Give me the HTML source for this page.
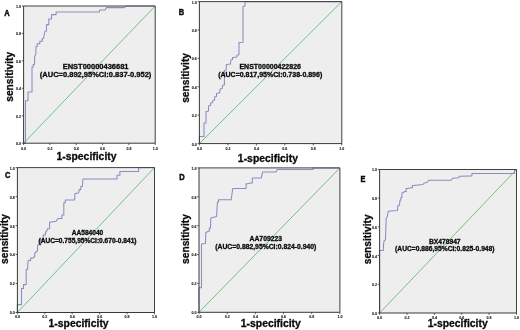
<!DOCTYPE html>
<html><head><meta charset="utf-8"><title>ROC curves</title>
<style>
html,body{margin:0;padding:0;background:#fff;}
body{width:520px;height:330px;overflow:hidden;}
svg{display:block;}

text{font-family:"Liberation Sans",sans-serif;font-weight:bold;fill:#0a0a0a;stroke:#0a0a0a;stroke-width:0.3px;}
.tk{font-size:3.6px;fill:#111;stroke:#111;stroke-width:0.08px;}
</style></head><body>
<svg width="520" height="330" viewBox="0 0 520 330">
<rect width="520" height="330" fill="#ffffff"/>

<g>
<rect x="23.6" y="6" width="131.6" height="137.2" fill="#eeeeee"/>
<line x1="23.6" y1="143.2" x2="155.2" y2="6" stroke="#72c282" stroke-width="1"/>
<polyline points="23.6,143.2 25.5,143.2 25.5,100.8 28,100.8 28,92 32,92 32,67 33.2,67.0 33.2,64.5 34.5,64.5 34.7,56 35.8,54.5 36,46.5 37.2,46.5 37.2,43.8 38.5,43.8 39.8,43.8 39.8,41.2 41.0,41.2 42.2,41.2 42.2,38.5 43.5,38.5 45,31 46.5,31.0 46.5,24.6 48.0,24.6 48.8,24.6 48.8,19.0 49.6,19.0 51.5,19.0 51.5,14.6 53.5,14.6 56.1,14.6 56.1,12.0 58.8,12.0 99.2,12 99.8,10 105,10 106.5,7.6 124,7.6 126,6 155.2,6" fill="none" stroke="#868ec2" stroke-width="1.05" stroke-linejoin="round"/>
<polyline points="23.6,6 155.2,6 155.2,143.2" fill="none" stroke="#404040" stroke-width="1"/>
<polyline points="23.6,6 23.6,143.2 155.2,143.2" fill="none" stroke="#2e2e2e" stroke-width="0.95"/>
<line x1="23.6" y1="143.2" x2="23.6" y2="145.0" stroke="#333" stroke-width="0.8"/>
<line x1="21.8" y1="143.2" x2="23.6" y2="143.2" stroke="#333" stroke-width="0.8"/>
<line x1="49.9" y1="143.2" x2="49.9" y2="145.0" stroke="#333" stroke-width="0.8"/>
<line x1="21.8" y1="115.8" x2="23.6" y2="115.8" stroke="#333" stroke-width="0.8"/>
<line x1="76.2" y1="143.2" x2="76.2" y2="145.0" stroke="#333" stroke-width="0.8"/>
<line x1="21.8" y1="88.3" x2="23.6" y2="88.3" stroke="#333" stroke-width="0.8"/>
<line x1="102.6" y1="143.2" x2="102.6" y2="145.0" stroke="#333" stroke-width="0.8"/>
<line x1="21.8" y1="60.9" x2="23.6" y2="60.9" stroke="#333" stroke-width="0.8"/>
<line x1="128.9" y1="143.2" x2="128.9" y2="145.0" stroke="#333" stroke-width="0.8"/>
<line x1="21.8" y1="33.4" x2="23.6" y2="33.4" stroke="#333" stroke-width="0.8"/>
<line x1="155.2" y1="143.2" x2="155.2" y2="145.0" stroke="#333" stroke-width="0.8"/>
<line x1="21.8" y1="6.0" x2="23.6" y2="6.0" stroke="#333" stroke-width="0.8"/>
</g>
<g>
<text class="tk" x="23.6" y="149.8" text-anchor="middle">0.0</text>
<text class="tk" x="21.0" y="145.1" text-anchor="end">0.0</text>
<text class="tk" x="49.9" y="149.8" text-anchor="middle">0.2</text>
<text class="tk" x="21.0" y="117.7" text-anchor="end">0.2</text>
<text class="tk" x="76.2" y="149.8" text-anchor="middle">0.4</text>
<text class="tk" x="21.0" y="90.2" text-anchor="end">0.4</text>
<text class="tk" x="102.6" y="149.8" text-anchor="middle">0.6</text>
<text class="tk" x="21.0" y="62.8" text-anchor="end">0.6</text>
<text class="tk" x="128.9" y="149.8" text-anchor="middle">0.8</text>
<text class="tk" x="21.0" y="35.3" text-anchor="end">0.8</text>
<text class="tk" x="155.2" y="149.8" text-anchor="middle">1.0</text>
<text class="tk" x="21.0" y="7.9" text-anchor="end">1.0</text>
<text transform="translate(4.2,15.6) scale(0.88,1)" font-size="8.5" style="stroke-width:0.45px">A</text>
<text font-size="10.2" transform="translate(13.1,76.8) rotate(-90)" text-anchor="middle">sensitivity</text>
<text font-size="10.4" x="86.5" y="160.2" text-anchor="middle">1-specificity</text>
<text font-size="7.5" x="95.6" y="68.5" text-anchor="middle">ENST00000436681</text>
<text font-size="7.5" x="95.6" y="76.7" text-anchor="middle">(AUC=0.892,95%CI:0.837-0.952)</text>
</g>
<g>
<rect x="199.4" y="1.6" width="142.4" height="142.0" fill="#eeeeee"/>
<line x1="199.4" y1="143.6" x2="341.8" y2="1.6" stroke="#72c282" stroke-width="1"/>
<polyline points="199.4,143.6 199.4,136.5 204,136.5 204,123 206,123 206,111.5 208.5,111 208.6,105.8 210.5,105.5 210.6,103 212.6,102.8 212.7,100.5 214.6,100 214.7,96.7 216.5,96.5 216.6,93.5 219.6,92.8 220.2,88.9 222.3,88.5 222.5,85.2 224.4,85 224.4,70.5 226.2,70 226.4,64.5 230.5,64 230.8,60 232.5,59.6 232.5,57.5 237,57 237,55 239,54.7 239,42.5 243,42.3 243,6.2 245,6 245,1.6 341.8,1.6" fill="none" stroke="#868ec2" stroke-width="1.05" stroke-linejoin="round"/>
<polyline points="199.4,1.6 341.8,1.6 341.8,143.6" fill="none" stroke="#404040" stroke-width="1"/>
<polyline points="199.4,1.6 199.4,143.6 341.8,143.6" fill="none" stroke="#2e2e2e" stroke-width="0.95"/>
<line x1="199.4" y1="143.6" x2="199.4" y2="145.4" stroke="#333" stroke-width="0.8"/>
<line x1="197.6" y1="143.6" x2="199.4" y2="143.6" stroke="#333" stroke-width="0.8"/>
<line x1="227.9" y1="143.6" x2="227.9" y2="145.4" stroke="#333" stroke-width="0.8"/>
<line x1="197.6" y1="115.2" x2="199.4" y2="115.2" stroke="#333" stroke-width="0.8"/>
<line x1="256.4" y1="143.6" x2="256.4" y2="145.4" stroke="#333" stroke-width="0.8"/>
<line x1="197.6" y1="86.8" x2="199.4" y2="86.8" stroke="#333" stroke-width="0.8"/>
<line x1="284.8" y1="143.6" x2="284.8" y2="145.4" stroke="#333" stroke-width="0.8"/>
<line x1="197.6" y1="58.4" x2="199.4" y2="58.4" stroke="#333" stroke-width="0.8"/>
<line x1="313.3" y1="143.6" x2="313.3" y2="145.4" stroke="#333" stroke-width="0.8"/>
<line x1="197.6" y1="30.0" x2="199.4" y2="30.0" stroke="#333" stroke-width="0.8"/>
<line x1="341.8" y1="143.6" x2="341.8" y2="145.4" stroke="#333" stroke-width="0.8"/>
<line x1="197.6" y1="1.6" x2="199.4" y2="1.6" stroke="#333" stroke-width="0.8"/>
</g>
<g>
<text class="tk" x="199.4" y="149.7" text-anchor="middle">0.0</text>
<text class="tk" x="196.8" y="145.5" text-anchor="end">0.0</text>
<text class="tk" x="227.9" y="149.7" text-anchor="middle">0.2</text>
<text class="tk" x="196.8" y="117.1" text-anchor="end">0.2</text>
<text class="tk" x="256.4" y="149.7" text-anchor="middle">0.4</text>
<text class="tk" x="196.8" y="88.7" text-anchor="end">0.4</text>
<text class="tk" x="284.8" y="149.7" text-anchor="middle">0.6</text>
<text class="tk" x="196.8" y="60.3" text-anchor="end">0.6</text>
<text class="tk" x="313.3" y="149.7" text-anchor="middle">0.8</text>
<text class="tk" x="196.8" y="31.9" text-anchor="end">0.8</text>
<text class="tk" x="341.8" y="149.7" text-anchor="middle">1.0</text>
<text class="tk" x="196.8" y="3.5" text-anchor="end">1.0</text>
<text transform="translate(178.8,14.8) scale(0.88,1)" font-size="8.5" style="stroke-width:0.45px">B</text>
<text font-size="10.2" transform="translate(189.4,77.9) rotate(-90)" text-anchor="middle">sensitivity</text>
<text font-size="10.4" x="267.9" y="161.6" text-anchor="middle">1-specificity</text>
<text font-size="7.0" x="270.2" y="69" text-anchor="middle">ENST00000422826</text>
<text font-size="7.0" x="270.2" y="77" text-anchor="middle">(AUC=0.817,95%CI:0.738-0.896)</text>
</g>
<g>
<rect x="17.4" y="167.6" width="137.1" height="144.9" fill="#eeeeee"/>
<line x1="17.4" y1="312.5" x2="154.5" y2="167.6" stroke="#72c282" stroke-width="1"/>
<polyline points="17.4,312.5 17.4,304.6 21.5,304.6 21.5,288.5 23.5,288.5 23.5,284.6 26.2,284.6 26.2,269.2 27.7,269.2 27.7,266 28.2,260.4 30.6,260.4 30.6,258.0 33.0,258.0 34.6,256.5 35,252.7 37.4,251.2 37.7,245 39.2,244.2 40.6,244.2 40.6,239.6 41.9,239.6 43.2,239.6 43.2,235.0 44.6,235.0 45.4,235.0 45.4,232.0 46.2,232.0 47.7,228.8 49.6,228.8 49.6,222.0 51.5,222.0 56.2,221.2 57.7,218.8 60.8,218.4 61.9,218.4 61.9,215.0 63.0,215.0 63.8,215 63.8,202.7 65.3,202.7 65.3,200.0 66.9,200.0 74.6,200 75,193.5 78.5,193 79.2,189.6 80.8,189.6 80.8,186.5 82.3,186.5 83,179 115.6,179 117.0,179.0 117.0,175.2 118.4,175.2 119.9,175.2 119.9,171.5 121.3,171.5 138.6,171.5 138.6,167.8 154.5,167.6" fill="none" stroke="#868ec2" stroke-width="1.05" stroke-linejoin="round"/>
<polyline points="17.4,167.6 154.5,167.6 154.5,312.5" fill="none" stroke="#404040" stroke-width="1"/>
<polyline points="17.4,167.6 17.4,312.5 154.5,312.5" fill="none" stroke="#2e2e2e" stroke-width="0.95"/>
<line x1="17.4" y1="312.5" x2="17.4" y2="314.3" stroke="#333" stroke-width="0.8"/>
<line x1="15.599999999999998" y1="312.5" x2="17.4" y2="312.5" stroke="#333" stroke-width="0.8"/>
<line x1="44.8" y1="312.5" x2="44.8" y2="314.3" stroke="#333" stroke-width="0.8"/>
<line x1="15.599999999999998" y1="283.5" x2="17.4" y2="283.5" stroke="#333" stroke-width="0.8"/>
<line x1="72.2" y1="312.5" x2="72.2" y2="314.3" stroke="#333" stroke-width="0.8"/>
<line x1="15.599999999999998" y1="254.5" x2="17.4" y2="254.5" stroke="#333" stroke-width="0.8"/>
<line x1="99.7" y1="312.5" x2="99.7" y2="314.3" stroke="#333" stroke-width="0.8"/>
<line x1="15.599999999999998" y1="225.6" x2="17.4" y2="225.6" stroke="#333" stroke-width="0.8"/>
<line x1="127.1" y1="312.5" x2="127.1" y2="314.3" stroke="#333" stroke-width="0.8"/>
<line x1="15.599999999999998" y1="196.6" x2="17.4" y2="196.6" stroke="#333" stroke-width="0.8"/>
<line x1="154.5" y1="312.5" x2="154.5" y2="314.3" stroke="#333" stroke-width="0.8"/>
<line x1="15.599999999999998" y1="167.6" x2="17.4" y2="167.6" stroke="#333" stroke-width="0.8"/>
</g>
<g>
<text class="tk" x="17.4" y="318.3" text-anchor="middle">0.0</text>
<text class="tk" x="14.8" y="314.4" text-anchor="end">0.0</text>
<text class="tk" x="44.8" y="318.3" text-anchor="middle">0.2</text>
<text class="tk" x="14.8" y="285.4" text-anchor="end">0.2</text>
<text class="tk" x="72.2" y="318.3" text-anchor="middle">0.4</text>
<text class="tk" x="14.8" y="256.4" text-anchor="end">0.4</text>
<text class="tk" x="99.7" y="318.3" text-anchor="middle">0.6</text>
<text class="tk" x="14.8" y="227.5" text-anchor="end">0.6</text>
<text class="tk" x="127.1" y="318.3" text-anchor="middle">0.8</text>
<text class="tk" x="14.8" y="198.5" text-anchor="end">0.8</text>
<text class="tk" x="154.5" y="318.3" text-anchor="middle">1.0</text>
<text class="tk" x="14.8" y="169.5" text-anchor="end">1.0</text>
<text transform="translate(4.9,177.9) scale(0.88,1)" font-size="8.5" style="stroke-width:0.45px">C</text>
<text font-size="10.2" transform="translate(7.5,239) rotate(-90)" text-anchor="middle">sensitivity</text>
<text font-size="10.4" x="78.6" y="327" text-anchor="middle">1-specificity</text>
<text font-size="6.6" x="87.5" y="235.2" text-anchor="middle">AA584040</text>
<text font-size="6.6" x="87.5" y="243.1" text-anchor="middle">(AUC=0.755,95%CI:0.670-0.841)</text>
</g>
<g>
<rect x="199" y="167.9" width="140.9" height="144.4" fill="#eeeeee"/>
<line x1="199" y1="312.3" x2="339.9" y2="167.9" stroke="#72c282" stroke-width="1"/>
<polyline points="199,312.3 199,287.7 201.5,287.7 201.5,244 205.5,243.5 205.8,232.7 208.2,231.2 209.3,231.2 209.3,228.0 210.5,228.0 210.8,218 216.6,216.5 217.4,202 218.6,202.0 218.6,199.8 219.7,199.8 231.2,199.8 232.7,188.5 244.2,188.5 246.1,188.5 246.1,183.8 248.0,183.8 250.4,183 252.3,183.0 252.3,178.0 254.2,178.0 261.2,178 262.7,172 276,172 277.3,169.5 313,169.5 313,167.9 339.9,167.9" fill="none" stroke="#868ec2" stroke-width="1.05" stroke-linejoin="round"/>
<polyline points="199,167.9 339.9,167.9 339.9,312.3" fill="none" stroke="#404040" stroke-width="1"/>
<polyline points="199,167.9 199,312.3 339.9,312.3" fill="none" stroke="#2e2e2e" stroke-width="0.95"/>
<line x1="199.0" y1="312.3" x2="199.0" y2="314.1" stroke="#333" stroke-width="0.8"/>
<line x1="197.2" y1="312.3" x2="199" y2="312.3" stroke="#333" stroke-width="0.8"/>
<line x1="227.2" y1="312.3" x2="227.2" y2="314.1" stroke="#333" stroke-width="0.8"/>
<line x1="197.2" y1="283.4" x2="199" y2="283.4" stroke="#333" stroke-width="0.8"/>
<line x1="255.4" y1="312.3" x2="255.4" y2="314.1" stroke="#333" stroke-width="0.8"/>
<line x1="197.2" y1="254.5" x2="199" y2="254.5" stroke="#333" stroke-width="0.8"/>
<line x1="283.5" y1="312.3" x2="283.5" y2="314.1" stroke="#333" stroke-width="0.8"/>
<line x1="197.2" y1="225.7" x2="199" y2="225.7" stroke="#333" stroke-width="0.8"/>
<line x1="311.7" y1="312.3" x2="311.7" y2="314.1" stroke="#333" stroke-width="0.8"/>
<line x1="197.2" y1="196.8" x2="199" y2="196.8" stroke="#333" stroke-width="0.8"/>
<line x1="339.9" y1="312.3" x2="339.9" y2="314.1" stroke="#333" stroke-width="0.8"/>
<line x1="197.2" y1="167.9" x2="199" y2="167.9" stroke="#333" stroke-width="0.8"/>
</g>
<g>
<text class="tk" x="199.0" y="318.2" text-anchor="middle">0.0</text>
<text class="tk" x="196.4" y="314.2" text-anchor="end">0.0</text>
<text class="tk" x="227.2" y="318.2" text-anchor="middle">0.2</text>
<text class="tk" x="196.4" y="285.3" text-anchor="end">0.2</text>
<text class="tk" x="255.4" y="318.2" text-anchor="middle">0.4</text>
<text class="tk" x="196.4" y="256.4" text-anchor="end">0.4</text>
<text class="tk" x="283.5" y="318.2" text-anchor="middle">0.6</text>
<text class="tk" x="196.4" y="227.6" text-anchor="end">0.6</text>
<text class="tk" x="311.7" y="318.2" text-anchor="middle">0.8</text>
<text class="tk" x="196.4" y="198.7" text-anchor="end">0.8</text>
<text class="tk" x="339.9" y="318.2" text-anchor="middle">1.0</text>
<text class="tk" x="196.4" y="169.8" text-anchor="end">1.0</text>
<text transform="translate(179.3,180.3) scale(0.88,1)" font-size="8.5" style="stroke-width:0.45px">D</text>
<text font-size="10.2" transform="translate(189.4,239) rotate(-90)" text-anchor="middle">sensitivity</text>
<text font-size="10.4" x="270.8" y="327.2" text-anchor="middle">1-specificity</text>
<text font-size="6.8" x="265.8" y="241" text-anchor="middle">AA709223</text>
<text font-size="6.8" x="265.8" y="248.8" text-anchor="middle">(AUC=0.882,95%CI:0.824-0.940)</text>
</g>
<g>
<rect x="379.6" y="169.5" width="136.9" height="143.5" fill="#eeeeee"/>
<line x1="379.6" y1="313" x2="516.5" y2="169.5" stroke="#72c282" stroke-width="1"/>
<polyline points="379.6,313 379.6,250.5 383.3,250.5 383.5,245 384,241 385.5,239.6 386.2,218 387.4,216.5 388.2,211.2 397.5,210.5 397.8,206 399.5,205 400,200 400.9,200.0 400.9,197.5 401.8,197.5 402,193 405,191.5 406.1,191.5 406.1,188.5 407.3,188.5 411.2,187.7 412.4,187.7 412.4,185.4 413.5,185.4 422.7,184.6 424.2,183 427.3,182.3 428.8,180.3 451.2,180.2 452.7,178.2 458.7,177.8 459.5,176.2 470.2,176 471.9,176.0 471.9,173.5 473.6,173.5 512.6,173.5 514.5,173.5 514.5,169.5 516.5,169.5" fill="none" stroke="#868ec2" stroke-width="1.05" stroke-linejoin="round"/>
<polyline points="379.6,169.5 516.5,169.5 516.5,313" fill="none" stroke="#404040" stroke-width="1"/>
<polyline points="379.6,169.5 379.6,313 516.5,313" fill="none" stroke="#2e2e2e" stroke-width="0.95"/>
<line x1="379.6" y1="313" x2="379.6" y2="314.8" stroke="#333" stroke-width="0.8"/>
<line x1="377.8" y1="313.0" x2="379.6" y2="313.0" stroke="#333" stroke-width="0.8"/>
<line x1="407.0" y1="313" x2="407.0" y2="314.8" stroke="#333" stroke-width="0.8"/>
<line x1="377.8" y1="284.3" x2="379.6" y2="284.3" stroke="#333" stroke-width="0.8"/>
<line x1="434.4" y1="313" x2="434.4" y2="314.8" stroke="#333" stroke-width="0.8"/>
<line x1="377.8" y1="255.6" x2="379.6" y2="255.6" stroke="#333" stroke-width="0.8"/>
<line x1="461.7" y1="313" x2="461.7" y2="314.8" stroke="#333" stroke-width="0.8"/>
<line x1="377.8" y1="226.9" x2="379.6" y2="226.9" stroke="#333" stroke-width="0.8"/>
<line x1="489.1" y1="313" x2="489.1" y2="314.8" stroke="#333" stroke-width="0.8"/>
<line x1="377.8" y1="198.2" x2="379.6" y2="198.2" stroke="#333" stroke-width="0.8"/>
<line x1="516.5" y1="313" x2="516.5" y2="314.8" stroke="#333" stroke-width="0.8"/>
<line x1="377.8" y1="169.5" x2="379.6" y2="169.5" stroke="#333" stroke-width="0.8"/>
</g>
<g>
<text class="tk" x="379.6" y="318.6" text-anchor="middle">0.0</text>
<text class="tk" x="377.0" y="314.9" text-anchor="end">0.0</text>
<text class="tk" x="407.0" y="318.6" text-anchor="middle">0.2</text>
<text class="tk" x="377.0" y="286.2" text-anchor="end">0.2</text>
<text class="tk" x="434.4" y="318.6" text-anchor="middle">0.4</text>
<text class="tk" x="377.0" y="257.5" text-anchor="end">0.4</text>
<text class="tk" x="461.7" y="318.6" text-anchor="middle">0.6</text>
<text class="tk" x="377.0" y="228.8" text-anchor="end">0.6</text>
<text class="tk" x="489.1" y="318.6" text-anchor="middle">0.8</text>
<text class="tk" x="377.0" y="200.1" text-anchor="end">0.8</text>
<text class="tk" x="516.5" y="318.6" text-anchor="middle">1.0</text>
<text class="tk" x="377.0" y="171.4" text-anchor="end">1.0</text>
<text transform="translate(360.6,181.8) scale(0.88,1)" font-size="8.5" style="stroke-width:0.45px">E</text>
<text font-size="10.2" transform="translate(370.6,239.3) rotate(-90)" text-anchor="middle">sensitivity</text>
<text font-size="10.4" x="457.7" y="327.2" text-anchor="middle">1-specificity</text>
<text font-size="6.7" x="444.8" y="243.7" text-anchor="middle">BX478947</text>
<text font-size="6.7" x="444.8" y="251.4" text-anchor="middle">(AUC=0.886,95%CI:0.825-0.948)</text>
</g>
</svg></body></html>
